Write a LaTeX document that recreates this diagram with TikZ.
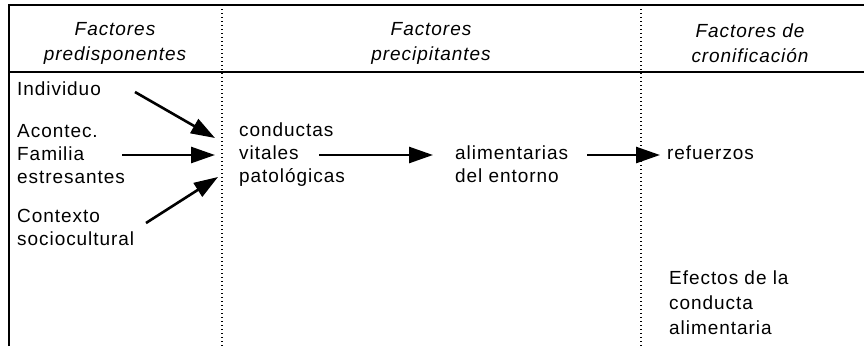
\documentclass[tikz,border=0pt]{standalone}
\usepackage{fontspec}
\setmainfont{Liberation Sans}[LetterSpace=5]
\usetikzlibrary{arrows.meta}

\begin{document}
\begin{tikzpicture}[x=1pt,y=-1pt,inner sep=0pt,>={Triangle[length=24pt,width=16pt]},
  rule/.style={line width=1.9pt},
  sep/.style={line width=1.4pt,dash pattern=on 1.4pt off 2.6pt},
  head/.style={font=\fontsize{19}{25}\selectfont\itshape,align=center},
  item/.style={font=\fontsize{19}{23}\selectfont,align=left,anchor=base west},
  link/.style={->,line width=2.6pt}]
\useasboundingbox (0,0) rectangle (864,346);
% table frame
\draw [rule] (9,346) -- (9,5) -- (864,5);
\draw [rule] (9,72) -- (864,72);
\draw [sep] (222,5) -- (222,346);
\draw [sep] (641,5) -- (641,346);
% column heads
\node [head] (pre)  at (115,43) {Factores\\predisponentes};
\node [head] (prec) at (431,43) {Factores\\precipitantes};
\node [head] (cro)  at (750,43) {Factores de\\cronificación};
% items (base = last line)
\node [item] (ind) at (17,95)  {Individuo};
\node [item] (acf) at (17,183) {Acontec.\\Familia\\estresantes};
\node [item] (ctx) at (17,245) {Contexto\\sociocultural};
\node [item] (cvp) at (239,182) {conductas\\vitales\\patológicas};
\node [item] (ale) at (455,182) {alimentarias\\del entorno};
\node [item] (ref) at (667,159) {refuerzos};
\node [item,font=\fontsize{19}{25}\selectfont] (efe) at (669,334) {Efectos de la\\conducta\\alimentaria};
% arrow ends
\coordinate (ind-o) at (135,92);  \coordinate (ind-i) at (215,138);
\coordinate (acf-o) at (122,155); \coordinate (acf-i) at (215,155);
\coordinate (ctx-o) at (146,223); \coordinate (ctx-i) at (218,177);
\coordinate (cvp-o) at (319,155); \coordinate (cvp-i) at (433,155);
\coordinate (ale-o) at (587,155); \coordinate (ale-i) at (660,155);
\draw [link] (ind-o) -- (ind-i);
\draw [link] (acf-o) -- (acf-i);
\draw [link] (ctx-o) -- (ctx-i);
\draw [link] (cvp-o) -- (cvp-i);
\draw [link] (ale-o) -- (ale-i);
\end{tikzpicture}
\end{document}
